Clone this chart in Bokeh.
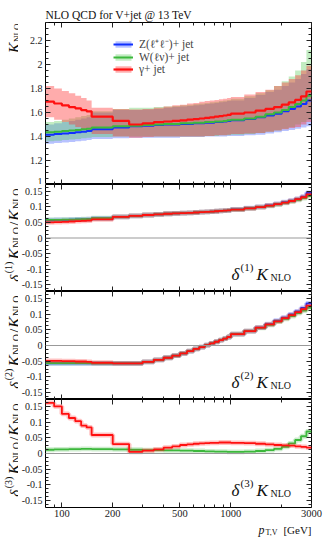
import numpy as np
from bokeh.plotting import figure
from bokeh.models import (FixedTicker, LogAxis, LinearAxis, Label, Span, Legend,
                          LegendItem, CustomJSTickFormatter)
from bokeh.layouts import column, row
from bokeh.embed import file_html
from bokeh.resources import INLINE

# ---------------- data ----------------
pt_edges = [80, 90, 100, 110, 120, 130, 140, 150, 200, 250, 300, 350, 400, 450, 500,
            550, 600, 650, 700, 750, 800, 850, 900, 950, 1000, 1200, 1400, 1600, 1800,
            2000, 2200, 2400, 2600, 2800, 3000]

k_z = [1.415, 1.42, 1.425, 1.43, 1.435, 1.44, 1.445, 1.46, 1.475, 1.485, 1.49, 1.495, 1.50, 1.50,
       1.505, 1.505, 1.51, 1.51, 1.515, 1.515, 1.52, 1.52, 1.525, 1.53, 1.535, 1.545, 1.56, 1.575,
       1.59, 1.61, 1.63, 1.65, 1.67, 1.70]
k_z_hi = [1.50, 1.51, 1.52, 1.53, 1.54, 1.55, 1.56, 1.60, 1.62, 1.62, 1.625, 1.63, 1.64, 1.645,
          1.65, 1.655, 1.66, 1.665, 1.67, 1.675, 1.68, 1.685, 1.69, 1.695, 1.70, 1.72, 1.745,
          1.77, 1.79, 1.82, 1.85, 1.88, 1.92, 1.96]
k_z_lo = [1.34, 1.345, 1.35, 1.355, 1.36, 1.365, 1.37, 1.38, 1.385, 1.39, 1.39, 1.39, 1.39, 1.39,
          1.395, 1.395, 1.395, 1.395, 1.40, 1.40, 1.40, 1.40, 1.40, 1.405, 1.405, 1.41, 1.415,
          1.425, 1.435, 1.445, 1.455, 1.465, 1.475, 1.485]

k_w = [1.435, 1.44, 1.445, 1.45, 1.455, 1.46, 1.465, 1.475, 1.485, 1.49, 1.495, 1.50, 1.505, 1.505,
       1.51, 1.51, 1.515, 1.515, 1.52, 1.52, 1.525, 1.525, 1.53, 1.535, 1.54, 1.55, 1.565, 1.585,
       1.60, 1.62, 1.645, 1.67, 1.70, 1.74]
k_w_hi = [1.52, 1.53, 1.54, 1.55, 1.56, 1.57, 1.58, 1.61, 1.63, 1.64, 1.64, 1.645, 1.65, 1.655,
          1.66, 1.665, 1.67, 1.675, 1.68, 1.685, 1.69, 1.695, 1.70, 1.705, 1.715, 1.735, 1.76,
          1.785, 1.82, 1.86, 1.90, 1.95, 2.02, 2.12]
k_w_lo = [1.36, 1.365, 1.37, 1.375, 1.38, 1.385, 1.39, 1.395, 1.40, 1.40, 1.40, 1.40, 1.40, 1.40,
          1.40, 1.40, 1.40, 1.40, 1.405, 1.405, 1.405, 1.41, 1.41, 1.41, 1.415, 1.42, 1.43, 1.44,
          1.45, 1.465, 1.48, 1.50, 1.52, 1.54]

k_g = [1.69, 1.675, 1.66, 1.645, 1.635, 1.62, 1.61, 1.565, 1.53, 1.50, 1.51, 1.52, 1.525, 1.53,
       1.535, 1.54, 1.545, 1.55, 1.555, 1.56, 1.565, 1.57, 1.575, 1.58, 1.59, 1.60, 1.615, 1.63,
       1.645, 1.665, 1.685, 1.705, 1.735, 1.775]
k_g_hi = [1.82, 1.80, 1.78, 1.76, 1.74, 1.72, 1.70, 1.64, 1.63, 1.625, 1.63, 1.64, 1.65, 1.66,
          1.665, 1.675, 1.68, 1.69, 1.695, 1.70, 1.705, 1.71, 1.715, 1.72, 1.73, 1.75, 1.77,
          1.79, 1.82, 1.85, 1.88, 1.91, 1.95, 1.99]
k_g_lo = [1.56, 1.54, 1.52, 1.50, 1.48, 1.46, 1.45, 1.42, 1.40, 1.39, 1.395, 1.40, 1.40, 1.40,
          1.40, 1.40, 1.40, 1.40, 1.405, 1.405, 1.41, 1.41, 1.41, 1.415, 1.42, 1.425, 1.43, 1.44,
          1.45, 1.46, 1.47, 1.48, 1.50, 1.52]

d1_z = [0.057, 0.058, 0.058, 0.059, 0.060, 0.060, 0.061, 0.063, 0.068, 0.071, 0.074, 0.076, 0.078,
        0.079, 0.080, 0.081, 0.082, 0.083, 0.084, 0.085, 0.086, 0.087, 0.088, 0.089, 0.092, 0.096,
        0.100, 0.105, 0.110, 0.115, 0.120, 0.126, 0.133, 0.145]
d1_w = [0.058, 0.058, 0.059, 0.059, 0.060, 0.061, 0.061, 0.064, 0.068, 0.071, 0.074, 0.076, 0.078,
        0.079, 0.080, 0.081, 0.082, 0.083, 0.084, 0.085, 0.086, 0.087, 0.088, 0.089, 0.091, 0.095,
        0.099, 0.103, 0.108, 0.113, 0.118, 0.123, 0.128, 0.135]
d1_g = [0.050, 0.051, 0.052, 0.053, 0.054, 0.055, 0.056, 0.060, 0.068, 0.071, 0.074, 0.076, 0.078,
        0.079, 0.080, 0.081, 0.082, 0.083, 0.084, 0.085, 0.086, 0.087, 0.088, 0.089, 0.091, 0.095,
        0.099, 0.104, 0.109, 0.114, 0.119, 0.125, 0.131, 0.140]

d2_z = [-0.057, -0.057, -0.057, -0.057, -0.057, -0.057, -0.057, -0.057, -0.057, -0.057, -0.052,
        -0.046, -0.039, -0.032, -0.025, -0.018, -0.011, -0.005, 0.001, 0.007, 0.012, 0.017, 0.022,
        0.027, 0.036, 0.046, 0.057, 0.068, 0.079, 0.089, 0.099, 0.109, 0.120, 0.134]
d2_w = [-0.056, -0.056, -0.056, -0.056, -0.056, -0.056, -0.056, -0.057, -0.057, -0.057, -0.052,
        -0.046, -0.039, -0.032, -0.025, -0.018, -0.011, -0.005, 0.001, 0.007, 0.012, 0.017, 0.022,
        0.027, 0.036, 0.046, 0.056, 0.066, 0.076, 0.085, 0.094, 0.103, 0.111, 0.120]
d2_g = [-0.049, -0.049, -0.050, -0.050, -0.051, -0.051, -0.052, -0.055, -0.057, -0.057, -0.052,
        -0.046, -0.039, -0.032, -0.025, -0.018, -0.011, -0.005, 0.001, 0.007, 0.012, 0.017, 0.022,
        0.027, 0.036, 0.046, 0.057, 0.067, 0.077, 0.087, 0.097, 0.106, 0.116, 0.127]

d3_w = [0.012, 0.013, 0.013, 0.014, 0.014, 0.015, 0.015, 0.014, 0.013, 0.012, 0.011, 0.011, 0.010,
        0.010, 0.009, 0.009, 0.008, 0.008, 0.007, 0.007, 0.006, 0.006, 0.006, 0.005, 0.005, 0.006,
        0.008, 0.011, 0.015, 0.021, 0.032, 0.043, 0.055, 0.070]
d3_g = [0.161, 0.150, 0.126, 0.113, 0.103, 0.089, 0.083, 0.059, 0.030, 0.005, 0.009, 0.013, 0.019,
        0.023, 0.027, 0.029, 0.031, 0.032, 0.033, 0.034, 0.034, 0.035, 0.035, 0.035, 0.034, 0.033,
        0.031, 0.029, 0.027, 0.026, 0.025, 0.023, 0.021, 0.019]

x_major = [100, 200, 500, 1000, 3000]
x_minor = [90, 300, 400, 600, 700, 800, 900, 2000]
k_major = [1.0, 1.2, 1.4, 1.6, 1.8, 2.0, 2.2]
k_minor = [round(1.0 + 0.05 * i, 2) for i in range(28)]
d_major = [-0.15, -0.1, -0.05, 0.0, 0.05, 0.1, 0.15]
d_minor = [round(-0.1625 + 0.0125 * i, 4) for i in range(27)]

# ---------------- layout constants ----------------
FONT = "Liberation Serif"
LW = 18            # width of the rotated-label strip
FW = 269           # frame width
ML = 24            # left border of panels (tick labels)
MR = 13
COLW = ML + FW + MR
HEAD = 22
H1, H2, H3, H4 = 162, 107, 108, 108
B4 = 14            # bottom border of last panel (tick labels)
XLAB = 16
TOTAL = HEAD + H1 + H2 + H3 + H4 + B4 + XLAB
XLAB_SHIFT = 27    # measured offset of the label strip's frame

BLUE, GREEN, RED = "#1030ff", "#3cb83c", "#ff1010"
BLUE_F, GREEN_F, RED_F = "#3050ff", "#50c850", "#ff3030"

num_fmt = CustomJSTickFormatter(code="return String(Number(tick.toFixed(3)));")


def style_axis(ax, show_labels, size="10px", standoff=3):
    ax.major_tick_in = 5
    ax.major_tick_out = 0
    ax.minor_tick_in = 3
    ax.minor_tick_out = 0
    ax.major_tick_line_color = "#222222"
    ax.minor_tick_line_color = "#222222"
    ax.axis_line_color = None
    ax.axis_label = None
    if show_labels:
        ax.major_label_text_font = FONT
        ax.major_label_text_font_size = size
        ax.major_label_text_color = "#222222"
        ax.major_label_standoff = standoff
    else:
        ax.formatter = CustomJSTickFormatter(code="return '';")
        ax.major_label_text_font_size = "1px"
        ax.major_label_standoff = 0


def make_panel(frame_h, y_rng, y_major, y_minor, b_top, b_bottom, show_x):
    p = figure(x_axis_type="log", x_range=(80, 3000), y_range=y_rng,
               width=COLW, height=frame_h + b_top + b_bottom,
               min_border_left=ML, min_border_right=MR,
               min_border_top=b_top, min_border_bottom=b_bottom,
               output_backend="svg", toolbar_location=None, align="start")
    p.grid.visible = False
    p.outline_line_color = "black"
    p.outline_line_width = 1
    xb = p.xaxis[0]
    xb.ticker = FixedTicker(ticks=x_major, minor_ticks=x_minor)
    xb.formatter = CustomJSTickFormatter(code="return String(tick);")
    style_axis(xb, show_x, size="10.5px", standoff=2)
    yl = p.yaxis[0]
    yl.ticker = FixedTicker(ticks=y_major, minor_ticks=y_minor)
    yl.formatter = num_fmt
    style_axis(yl, True, size="10px", standoff=3)
    xa = LogAxis(ticker=FixedTicker(ticks=x_major, minor_ticks=x_minor))
    style_axis(xa, False)
    p.add_layout(xa, "above")
    yr = LinearAxis(ticker=FixedTicker(ticks=y_major, minor_ticks=y_minor))
    style_axis(yr, False)
    p.add_layout(yr, "right")
    return p


def blank_fig(w, h):
    p = figure(width=w, height=h, x_range=(0, 1), y_range=(0, 1),
               x_axis_location=None, y_axis_location=None, min_border=0,
               min_border_left=0, min_border_right=0, min_border_top=0, min_border_bottom=0,
               output_backend="svg", toolbar_location=None, align="start")
    p.grid.visible = False
    p.outline_line_color = None
    return p


def band(p, lo, hi, color, alpha):
    xs = np.repeat(pt_edges, 2)[1:-1]
    up = np.repeat(hi, 2)
    dn = np.repeat(lo, 2)
    return p.patch(np.concatenate([xs, xs[::-1]]), np.concatenate([up, dn[::-1]]),
                   fill_color=color, fill_alpha=alpha, line_color=None)


def step_line(p, vals, color, width=2, halo=True):
    ys = list(vals) + [vals[-1]]
    if halo:
        p.step(pt_edges, ys, mode="after", line_color=color, line_width=width + 3, line_alpha=0.25)
    return p.step(pt_edges, ys, mode="after", line_color=color, line_width=width)


def add_text(p, text, x, y, size, italic=False, angle=0.0, align="left"):
    p.add_layout(Label(x=x, y=y, x_units="screen", y_units="screen", text=text,
                       text_font=FONT, text_font_size=f"{size}px",
                       text_font_style="italic" if italic else "normal",
                       text_color="#111111", angle=angle, text_align=align,
                       text_baseline="alphabetic"))


W_EM = {"K": 0.70, "N": 0.722, "L": 0.611, "O": 0.722, "/": 0.278, "(": 0.333, ")": 0.333,
        "1": 0.5, "2": 0.5, "3": 0.5, "δ": 0.5}


def text_w(s, size):
    return sum(W_EM.get(c, 0.5) for c in s) * size


def rot_label(p, pieces, x_base, y_end):
    # pieces: (text, size, italic, baseline shift (+ = toward frame), gap after)
    total = sum(text_w(t, s) + g for t, s, _, _, g in pieces)
    y = y_end - total
    for t, s, it, sh, g in pieces:
        add_text(p, t, x_base + sh, y, s, italic=it, angle=np.pi / 2)
        y += text_w(t, s) + g


def delta_tag(p, n):
    add_text(p, "δ", 186, 17, 17, italic=True)
    add_text(p, f"({n})", 195, 25, 11)
    add_text(p, "K", 211, 17, 17, italic=True)
    add_text(p, "NLO", 225, 14, 10)


# ---------------- rotated axis-label strip ----------------
lab = blank_fig(LW, TOTAL)
XB = 14
rot_label(lab, [("K", 16, True, 0, 0), ("NLO", 9, False, 2, 0)], XB, TOTAL - (HEAD + 1))
tops = [HEAD + H1, HEAD + H1 + H2, HEAD + H1 + H2 + H3]
for n, top in enumerate(tops, start=1):
    rot_label(lab, [("δ", 15, True, 0, 1), (f"({n})", 10, False, -6, 2), ("K", 17, True, 0, 0),
                    ("NLO", 10, False, 2, 1), ("/", 15, False, 0, 1), ("K", 17, True, 0, 0),
                    ("NLO", 10, False, 2, 0)], XB, TOTAL - (top + 4))

# ---------------- panel 1 : K factors ----------------
p1 = make_panel(H1, (1.0, 2.35), k_major, k_minor, HEAD, 0, False)
p1.title.text = "NLO QCD for V+jet @ 13 TeV"
p1.title.align = "left"
p1.title.text_font = FONT
p1.title.text_font_size = "11.5px"
p1.title.text_font_style = "normal"
p1.title.text_color = "#111111"
p1.title.standoff = 4
p1.title.offset = 0
bz = band(p1, k_z_lo, k_z_hi, BLUE_F, 0.35)
bw = band(p1, k_w_lo, k_w_hi, GREEN_F, 0.35)
bg = band(p1, k_g_lo, k_g_hi, RED_F, 0.40)
lz = step_line(p1, k_z, BLUE, 2, halo=False)
lw = step_line(p1, k_w, GREEN, 2, halo=False)
lg = step_line(p1, k_g, RED, 2.2, halo=False)
leg = Legend(items=[LegendItem(label="Z(ℓ⁺ℓ⁻)+ jet", renderers=[bz, lz]),
                    LegendItem(label="W(ℓν)+ jet", renderers=[bw, lw]),
                    LegendItem(label="γ+ jet", renderers=[bg, lg])],
             location=(68, 109), glyph_width=20, glyph_height=8, label_height=8,
             spacing=0, padding=0, margin=0, border_line_alpha=0,
             background_fill_alpha=0, label_text_font=FONT, label_text_font_size="11.5px",
             label_text_line_height=0.95, label_standoff=6)
p1.add_layout(leg, "center")

# ---------------- delta panels ----------------
panels = []
for idx, (h, series, bb, showx) in enumerate([
        (H2, [(d1_z, BLUE), (d1_w, GREEN), (d1_g, RED)], 0, False),
        (H3, [(d2_z, BLUE), (d2_w, GREEN), (d2_g, RED)], 0, False),
        (H4, [(d3_w, GREEN), (d3_g, RED)], B4, True)], start=1):
    p = make_panel(h, (-0.172, 0.172), d_major, d_minor, 0, bb, showx)
    p.add_layout(Span(location=0, dimension="width", line_color="#999999", line_width=1))
    for vals, col in series:
        step_line(p, vals, col, 1.8, halo=True)
    delta_tag(p, idx)
    panels.append(p)

# ---------------- x-axis label ----------------
xlab = blank_fig(COLW, XLAB)
xr = ML + FW - XLAB_SHIFT
add_text(xlab, "[GeV]", xr, 8, 11, align="right")
add_text(xlab, "T,V", xr - 34, 5.5, 8, align="right")
add_text(xlab, "p", xr - 53, 8, 12, italic=True)

layout = row(lab, column(p1, *panels, xlab, spacing=0, align="start"), spacing=0, align="start")
open("out.html", "w").write(file_html(layout, INLINE))
